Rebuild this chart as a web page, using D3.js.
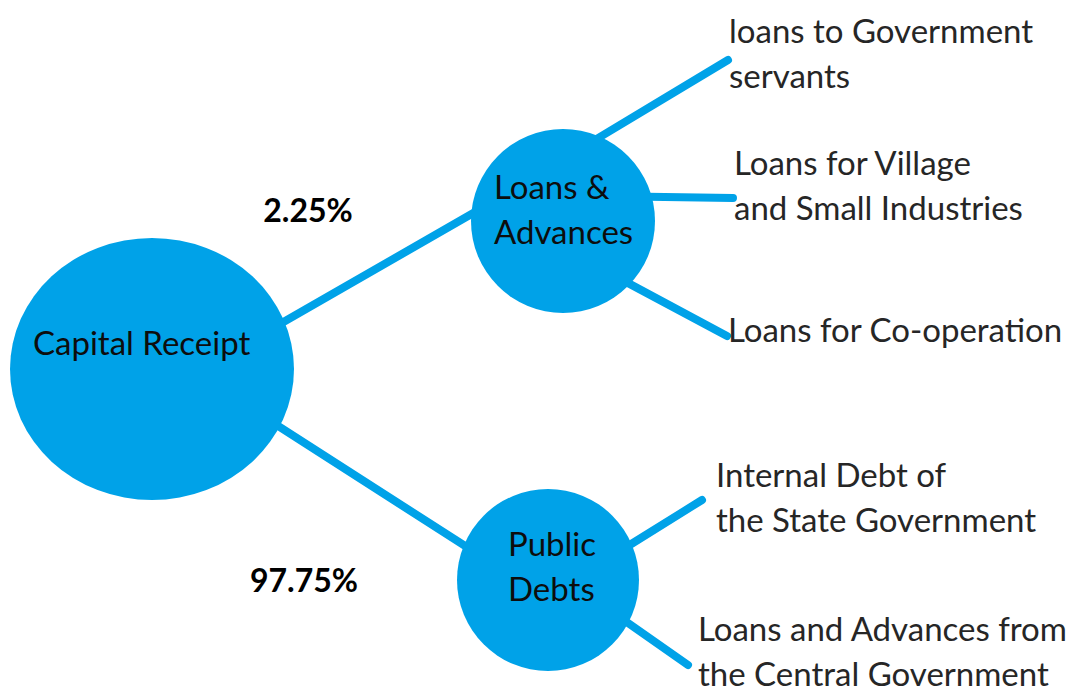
<!DOCTYPE html>
<html>
<head>
<meta charset="utf-8">
<script src="https://cdn.jsdelivr.net/npm/d3@7.9.0/dist/d3.min.js"></script>
<style>
  body { margin: 0; background: #fff; }
  svg { display: block; }
  text { font-family: Lato, "Open Sans", sans-serif; }
</style>
</head>
<body>
<svg id="chart" width="1081" height="695"></svg>
<script>
// ---- data ----
const rootName = "Capital Receipt";
const branches = ["Loans &\nAdvances", "Public\nDebts"];
const shares = [2.25, 97.75];
const loanLeaves = [
  "loans to Government\nservants",
  "Loans for Village\nand Small Industries",
  "Loans for Co-operation"
];
const debtLeaves = [
  "Internal Debt of\nthe State Government",
  "Loans and Advances from\nthe Central Government"
];
const leaves = [loanLeaves, debtLeaves];

// ---- layout / style ----
const blue = "#00a2e8";
const lineH = 45;
const svg = d3.select("#chart");
const gLinks = svg.append("g");
const gNodes = svg.append("g");
const gText = svg.append("g");

const root = { cx: 152, cy: 369, rx: 142, ry: 131 };
const branchY = d3.scalePoint().domain(branches).range([221, 580]);
const branchX = d3.scaleOrdinal().domain(branches).range([563, 548]);
const branchR = d3.scaleOrdinal().domain(branches).range([92, 91]);
// angle (deg) where each link leaves / meets a circle
const rootOut = [-21, 26];
const branchIn = [186, 202];
const leafOut = [[-68, -16, 44], [-23, 28]];
const leafY = [
  d3.scalePoint().domain(loanLeaves).range([60, 336]),
  d3.scalePoint().domain(debtLeaves).range([500, 665])
];
const leafX = [
  d3.scaleOrdinal().domain(loanLeaves).range([728, 733, 727]),
  d3.scaleOrdinal().domain(debtLeaves).range([702, 688])
];
// first-baseline offset of each leaf label from its link end
const leafDy = [[-17, -23, 6], [-13, -24]];
const pctPos = [[308, 211], [304, 581]];

const rad = a => a * Math.PI / 180;
const onEllipse = (cx, cy, rx, ry, a, inset = 4) =>
  [cx + (rx - inset) * Math.cos(rad(a)), cy + (ry - inset) * Math.sin(rad(a))];

function link(p, q) {
  gLinks.append("line")
    .attr("x1", p[0]).attr("y1", p[1])
    .attr("x2", q[0]).attr("y2", q[1])
    .attr("stroke", blue).attr("stroke-width", 8)
    .attr("stroke-linecap", "round");
}

function multiText(x, y, str, anchor, size, weight, fill) {
  const t = gText.append("text")
    .attr("x", x).attr("y", y)
    .attr("text-anchor", anchor)
    .attr("font-size", size)
    .attr("font-weight", weight)
    .attr("fill", fill);
  str.split("\n").forEach((s, i) => {
    t.append("tspan").attr("x", x).attr("dy", i === 0 ? 0 : lineH).text(s);
  });
}

// root
gNodes.append("ellipse")
  .attr("cx", root.cx).attr("cy", root.cy)
  .attr("rx", root.rx).attr("ry", root.ry)
  .attr("fill", blue);
multiText(33, 355, rootName, "start", 33, 400, "#0d0d0d");

branches.forEach((b, i) => {
  const cx = branchX(b), cy = branchY(b), r = branchR(b);
  link(onEllipse(root.cx, root.cy, root.rx, root.ry, rootOut[i]),
       onEllipse(cx, cy, r, r, branchIn[i]));
  gNodes.append("circle").attr("cx", cx).attr("cy", cy).attr("r", r).attr("fill", blue);
  multiText(cx - (i === 0 ? 69 : 40), cy - (i === 0 ? 22 : 24), b, "start", 33, 400, "#0d0d0d");
  gText.append("text")
    .attr("x", pctPos[i][0]).attr("y", pctPos[i][1] + 11)
    .attr("text-anchor", "middle")
    .attr("font-size", 32).attr("font-weight", 700)
    .attr("fill", "#000")
    .text(d3.format(".2f")(shares[i]) + "%");

  leaves[i].forEach((lf, j) => {
    const ex = leafX[i](lf), ey = leafY[i](lf);
    link(onEllipse(cx, cy, r, r, leafOut[i][j]), [ex, ey]);
    const tx = i === 0 ? ex + 1 : ex + (j === 0 ? 14 : 10);
    multiText(tx, ey + leafDy[i][j], lf, "start", 33, 400, "#262626");
  });
});
</script>
</body>
</html>
